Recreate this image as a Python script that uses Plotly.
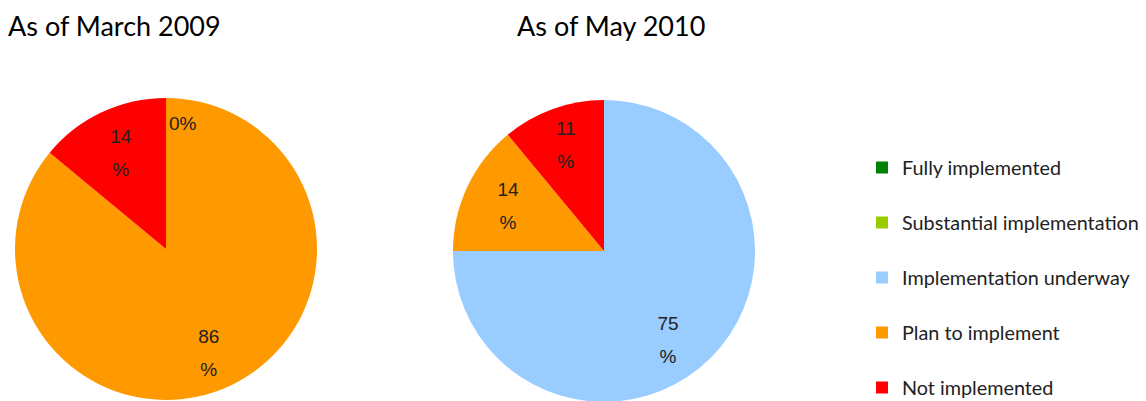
import plotly.graph_objects as go

categories = ["Fully implemented", "Substantial implementation", "Implementation underway",
              "Plan to implement", "Not implemented"]
colors = ["#008000", "#99CC00", "#99CCFF", "#FF9900", "#FF0000"]
values_2009 = [0, 0, 0, 86, 14]
values_2010 = [0, 0, 75, 14, 11]
titles = ["As of March 2009", "As of May 2010"]

W, H = 1146, 401
LBL = "font-size:19px"
GHOST = "<span style='color:rgba(0,0,0,0)'>.</span>"
GHOST_PAD = "<span style='color:rgba(0,0,0,0);font-size:19px'>00</span>"


def slice_text(vals):
    out = []
    for v in vals:
        if v <= 0:
            out.append("")
            continue
        if v > 50:
            # large slices: push the label outward with invisible padding
            out.append(f"{GHOST}<br>{GHOST}<br>"
                       f"{GHOST_PAD}<span style='{LBL}'>{v}</span><br>"
                       f"{GHOST_PAD}<span style='{LBL}'>%</span>")
        else:
            out.append(f"<span style='{LBL}'>{v}</span><br><span style='{LBL}'>%</span>")
    return out


legend_labels = [f"<br><span style='font-size:19.8px'>{c}</span>" for c in categories]

common = dict(
    textinfo="text", textposition="inside", insidetextorientation="horizontal",
    sort=False, direction="clockwise", rotation=0,
    marker=dict(colors=colors, line=dict(width=0)),
    textfont=dict(family="Liberation Sans", size=25, color="#222222"),
    hoverinfo="percent", showlegend=True,
)

fig = go.Figure()
fig.add_trace(go.Pie(
    labels=legend_labels, values=values_2009, text=slice_text(values_2009),
    domain=dict(x=[7 / W, 309 / W], y=[9 / H, 311 / H]), **common,
))
fig.add_trace(go.Pie(
    labels=legend_labels, values=values_2010, text=slice_text(values_2010),
    domain=dict(x=[445 / W, 747 / W], y=[7 / H, 309 / H]), **common,
))

annotations = [
    dict(text=titles[0], x=-2 / W, y=1 - 17 / H, xref="paper", yref="paper",
         xanchor="left", yanchor="middle", showarrow=False,
         font=dict(family="Lato", size=27, color="#000000")),
    dict(text=titles[1], x=507 / W, y=1 - 17 / H, xref="paper", yref="paper",
         xanchor="left", yanchor="middle", showarrow=False,
         font=dict(family="Lato", size=27, color="#000000")),
    dict(text=f"{values_2009[0]}%", x=175 / W, y=1 - 116 / H, xref="paper", yref="paper",
         xanchor="center", yanchor="middle", showarrow=False,
         font=dict(family="Liberation Sans", size=19, color="#222222")),
]

fig.update_layout(
    width=W, height=H,
    margin=dict(l=0, r=0, t=0, b=0, autoexpand=False),
    paper_bgcolor="white", plot_bgcolor="white",
    annotations=annotations,
    legend=dict(x=854 / W, xanchor="left", y=1 - 114 / H, yanchor="top",
                valign="bottom", traceorder="normal",
                font=dict(family="Lato", size=20, color="#222222"),
                bgcolor="rgba(0,0,0,0)"),
)

fig.write_html("out.html")
